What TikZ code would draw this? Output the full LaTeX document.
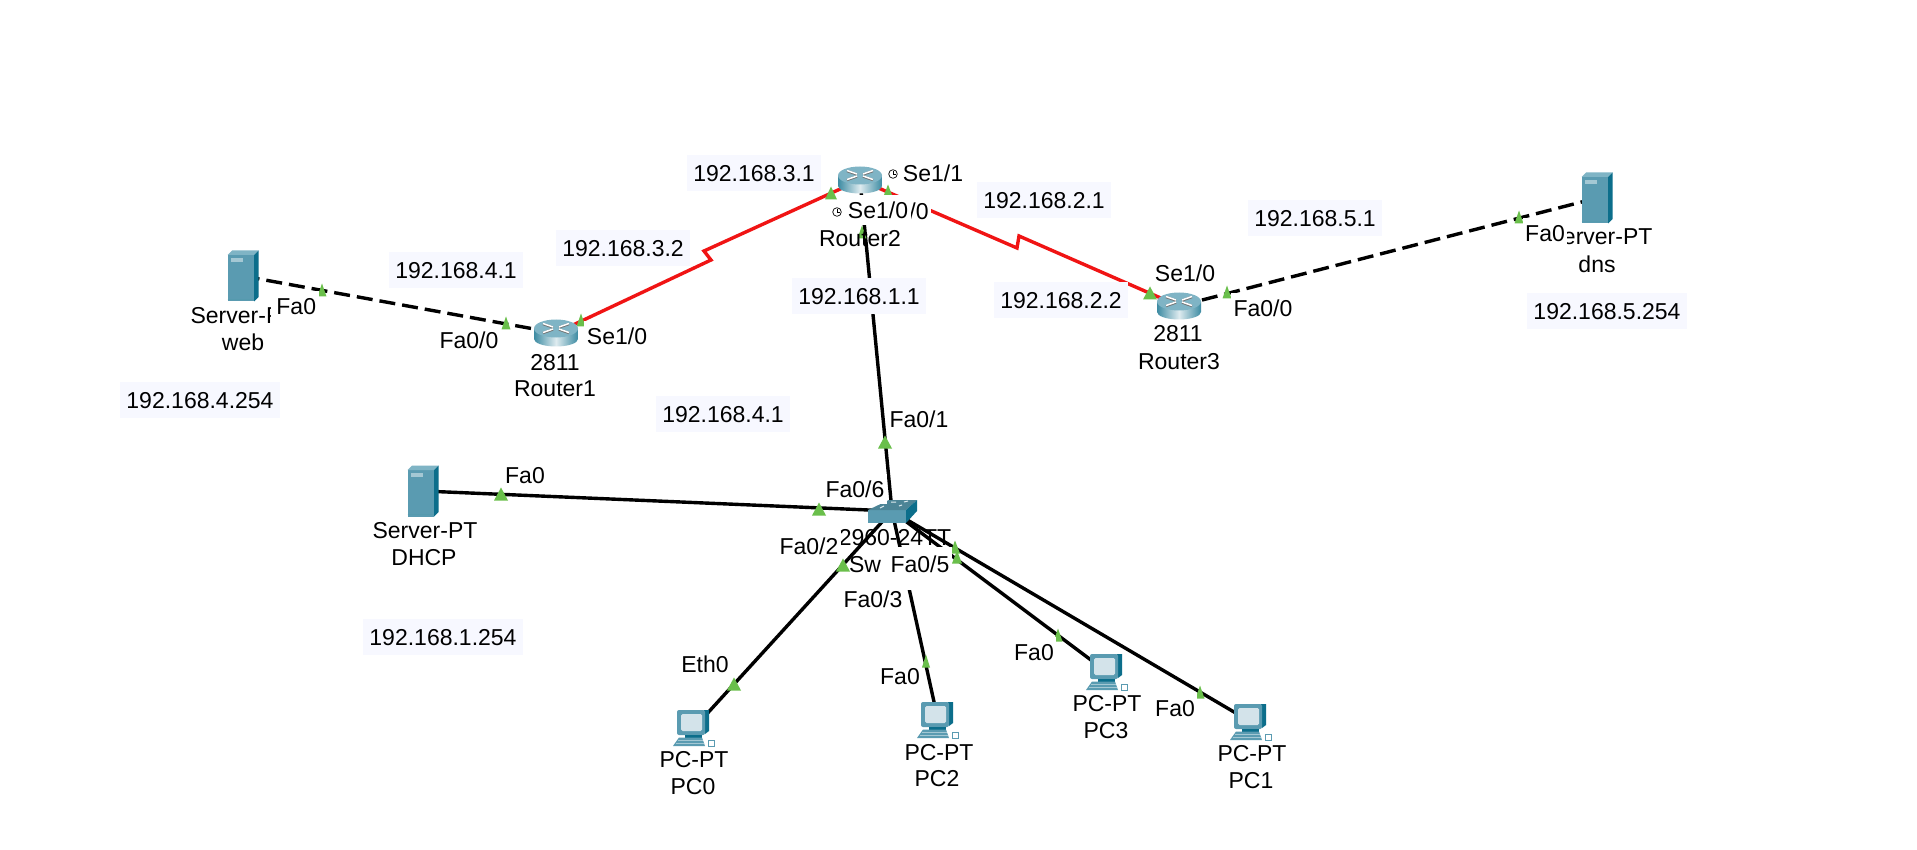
\documentclass[tikz,border=0pt]{standalone}
\usepackage{fontspec}
\setmainfont{Liberation Sans}
\definecolor{portgreen}{HTML}{6ABF4B}
\definecolor{linkred}{HTML}{F01414}
\definecolor{notebg}{HTML}{F7F8FF}
\definecolor{tealface}{HTML}{5A9BB1}
\definecolor{tealtop}{HTML}{7FB4C5}
\definecolor{tealside}{HTML}{0C6E8B}
\definecolor{tealpale}{HTML}{A4C8D4}
\definecolor{screenbg}{HTML}{D3E3EA}
\tikzset{devnode/.style={circle, inner sep=0pt, minimum size=1pt},
	lan/.style={draw=black, line width=3.4pt},
	wan/.style={draw=linkred, line width=3.4pt, line join=miter},
	fiber/.style={draw=black, line width=3.4pt, dash pattern=on 16pt off 7pt},
	txt/.style={font=\fontsize{23}{26}\selectfont, text height=16.5pt, text depth=0pt, inner sep=0pt},
	devlabel/.style={txt},
	portlabel/.style={txt, fill=white, inner xsep=2.5pt, inner ysep=7pt},
	iplabel/.style={txt, fill=notebg, inner xsep=6pt, inner ysep=10pt}}
\newcommand{\routericon}[1]{
	\begin{scope}[shift={(#1)}]
	\shade[left color=tealside!80!white, right color=tealside!80!white, middle color=white!80!tealface] (-22,-4) -- (-22,6) arc[start angle=180, end angle=0, x radius=22, y radius=7.5] -- (22,-4) -- cycle;
	\fill[tealtop] (0,-4.5) ellipse[x radius=22, y radius=9];
	\draw[black!55, line width=2.4pt] (-13,-9) -- (-3,-5.5) (13,-9) -- (3,-5.5) (-13,0) -- (-3,-3.5) (13,0) -- (3,-3.5);
	\draw[white, line width=1.5pt] (-13,-9.5) -- (-3,-6) (13,-9.5) -- (3,-6) (-13,-.5) -- (-3,-4) (13,-.5) -- (3,-4);
	\end{scope}}
\newcommand{\servericon}[1]{
	\begin{scope}[shift={(#1)}]
	\fill[tealface] (-15.5,-21) rectangle (11,25.5);
	\fill[tealtop] (-15.5,-21) -- (-11,-25.5) -- (15.5,-25.5) -- (11,-21) -- cycle;
	\fill[tealside] (11,-21) -- (15.5,-25.5) -- (15.5,21) -- (11,25.5) -- cycle;
	\fill[tealpale] (-12,-18) rectangle (0,-14);
	\draw[tealside!70, line width=.8pt] (-15.5,23) -- (11,23);
	\end{scope}}
\newcommand{\switchicon}[1]{
	\begin{scope}[shift={(#1)}]
	\fill[tealface] (-24,-1) rectangle (14,12);
	\fill[tealface!85!black] (-24,-1) -- (-3,-11) -- (25,-11) -- (14,-1) -- cycle;
	\fill[tealside] (14,-1) -- (25,-11) -- (25,0) -- (14,12) -- cycle;
	\draw[white!80!tealface, line width=1pt] (-12,-3) -- (-8,-5) (-1,-9) -- (4,-9) (12,-9) -- (16,-10) (7,-5) -- (10,-6);
	\end{scope}}
\newcommand{\pcicon}[1]{
	\begin{scope}[shift={(#1)}]
	\fill[tealside] (10,-18) -- (15,-18) -- (15,3) -- (11,6) -- cycle;
	\fill[tealface, rounded corners=2pt] (-17,-18) rectangle (11,7);
	\fill[screenbg, rounded corners=1.5pt] (-13,-14) rectangle (8,3);
	\fill[tealside] (-9,7) rectangle (8,9.5);
	\fill[tealface] (-15,9.5) -- (8,9.5) -- (11,18) -- (-21,18) -- cycle;
	\draw[tealpale, line width=.8pt] (-16,12.5) -- (9,12.5) (-18,15.5) -- (10,15.5);
	\draw[tealface, fill=white, line width=.8pt] (14,12.5) rectangle (20,18);
	\end{scope}}
\newcommand{\clockmark}[1]{
	\draw[black, fill=white, line width=.7pt] (#1) circle (4.3);
	\draw[black, line width=.7pt] (#1) -- ++(0,-3) (#1) -- ++(2.5,0);}

\begin{document}
\begin{tikzpicture}[x=1pt,y=-1pt]
	\useasboundingbox (0,0) rectangle (1917,850);
	\fill[white] (0,0) rectangle (1917,850);

	\node[devnode] (web) at (243,276) {};
	\node[devnode] (dns) at (1597,198) {};
	\node[devnode] (dhcp) at (423,491) {};
	\node[devnode] (router1) at (556,333) {};
	\node[devnode] (router2) at (860,180) {};
	\node[devnode] (router3) at (1179,306) {};
	\node[devnode] (switch0) at (892,511) {};
	\node[devnode] (pc0) at (694,728) {};
	\node[devnode] (pc1) at (1251,722) {};
	\node[devnode] (pc2) at (938,720) {};
	\node[devnode] (pc3) at (1107,672) {};
	\coordinate (zigLa) at (711,260);
	\coordinate (zigLb) at (704,251);
	\coordinate (zigRa) at (1017,248);
	\coordinate (zigRb) at (1019,236);

	\draw[fiber] (web) -- (router1);
	\draw[fiber] (router3) -- (dns);
	\draw[wan] (router1) -- (zigLa) -- (zigLb) -- (router2);
	\draw[wan] (router2) -- (zigRa) -- (zigRb) -- (router3);
	\draw[lan] (switch0) -- (router2);
	\draw[lan] (switch0) -- (dhcp);
	\draw[lan] (switch0) -- (pc0);
	\draw[lan] (switch0) -- (pc1);
	\draw[lan] (switch0) -- (pc2);
	\draw[lan] (switch0) -- (pc3);

	\foreach \tx/\ty/\tw in {322/290/9, 506/323/9, 581/320/9, 831/193/12, 888/191/10, 1150/293/14, 1227/292/9, 1519/217/9, 501/494/14, 819/509/14, 862/232/9, 885/442/14, 843/565/14, 955/547/10, 957/557/10, 734/684/14, 926/661/8, 1058/635/9, 1200/692/9}
		\fill[portgreen] (\tx-\tw/2,\ty+6.5) -- (\tx+\tw/2,\ty+6.5) -- (\tx,\ty-6.5) -- cycle;

	\servericon{web}
	\servericon{dns}
	\servericon{dhcp}
	\routericon{router1}
	\routericon{router2}
	\routericon{router3}
	\switchicon{switch0}
	\pcicon{pc0}
	\pcicon{pc1}
	\pcicon{pc2}
	\pcicon{pc3}

	\node[devlabel] (webtype) at (243,315) {Server-PT};
	\node[devlabel] (webname) at (243,342) {web};
	\node[devlabel] (dnstype) at (1600,236) {Server-PT};
	\node[devlabel] (dnsname) at (1597,264) {dns};
	\node[devlabel] (dhcptype) at (425,530) {Server-PT};
	\node[devlabel] (dhcpname) at (424,557) {DHCP};
	\node[devlabel] (r1type) at (555,362) {2811};
	\node[devlabel] (r1name) at (555,388) {Router1};
	\node[devlabel] (r2name) at (860,238) {Router2};
	\node[devlabel] (r3type) at (1178,333) {2811};
	\node[devlabel] (r3name) at (1179,361) {Router3};
	\node[devlabel] (swtype) at (895,537) {2960-24TT};
	\node[devlabel] (swname) at (865,564) {Sw};
	\node[devlabel] (pc0type) at (694,759) {PC-PT};
	\node[devlabel] (pc0name) at (693,786) {PC0};
	\node[devlabel] (pc2type) at (939,752) {PC-PT};
	\node[devlabel] (pc2name) at (937,778) {PC2};
	\node[devlabel] (pc3type) at (1107,703) {PC-PT};
	\node[devlabel] (pc3name) at (1106,730) {PC3};
	\node[devlabel] (pc1type) at (1252,753) {PC-PT};
	\node[devlabel] (pc1name) at (1251,780) {PC1};

	\node[iplabel] (ipa) at (754,173) {192.168.3.1};
	\node[iplabel] (ipb) at (623,248) {192.168.3.2};
	\node[iplabel] (ipc) at (1044,200) {192.168.2.1};
	\node[iplabel] (ipd) at (1061,300) {192.168.2.2};
	\node[iplabel] (ipe) at (859,296) {192.168.1.1};
	\node[iplabel] (ipf) at (456,270) {192.168.4.1};
	\node[iplabel] (ipg) at (723,414) {192.168.4.1};
	\node[iplabel] (iph) at (200,400) {192.168.4.254};
	\node[iplabel] (ipi) at (1315,218) {192.168.5.1};
	\node[iplabel] (ipj) at (1607,311) {192.168.5.254};
	\node[iplabel] (ipk) at (443,637) {192.168.1.254};

	\node[portlabel, anchor=base, text depth=2pt] (pwa) at (295,315) {\hspace*{2.5pt}Fa0};
	\node[portlabel] (pra) at (469,340) {Fa0/0};
	\node[portlabel] (prb) at (617,336) {Se1/0};
	\node[portlabel] (prc) at (933,173) {Se1/1};
	\node[portlabel] (prd) at (919,211) {/0};
	\node[portlabel] (pre) at (878,210) {Se1/0};
	\node[portlabel] (prf) at (1185,273) {Se1/0};
	\node[portlabel] (prg) at (1263,308) {Fa0/0};
	\node[portlabel] (pda) at (1545,233) {Fa0};
	\node[portlabel] (pha) at (525,475) {Fa0};
	\node[portlabel] (psa) at (919,419) {Fa0/1};
	\node[portlabel] (psb) at (855,489) {Fa0/6};
	\node[portlabel] (psc) at (809,546) {Fa0/2};
	\node[portlabel, anchor=base, text depth=9pt, inner ysep=9pt] (psd) at (920,572) {Fa0/5};
	\node[portlabel] (pse) at (873,599) {Fa0/3};
	\node[portlabel] (pca) at (705,664) {Eth0};
	\node[portlabel] (pcb) at (900,676) {Fa0};
	\node[portlabel] (pcc) at (1034,652) {Fa0};
	\node[portlabel] (pcd) at (1175,708) {Fa0};

	\clockmark{893,174}
	\clockmark{837,212}
\end{tikzpicture}
\end{document}
